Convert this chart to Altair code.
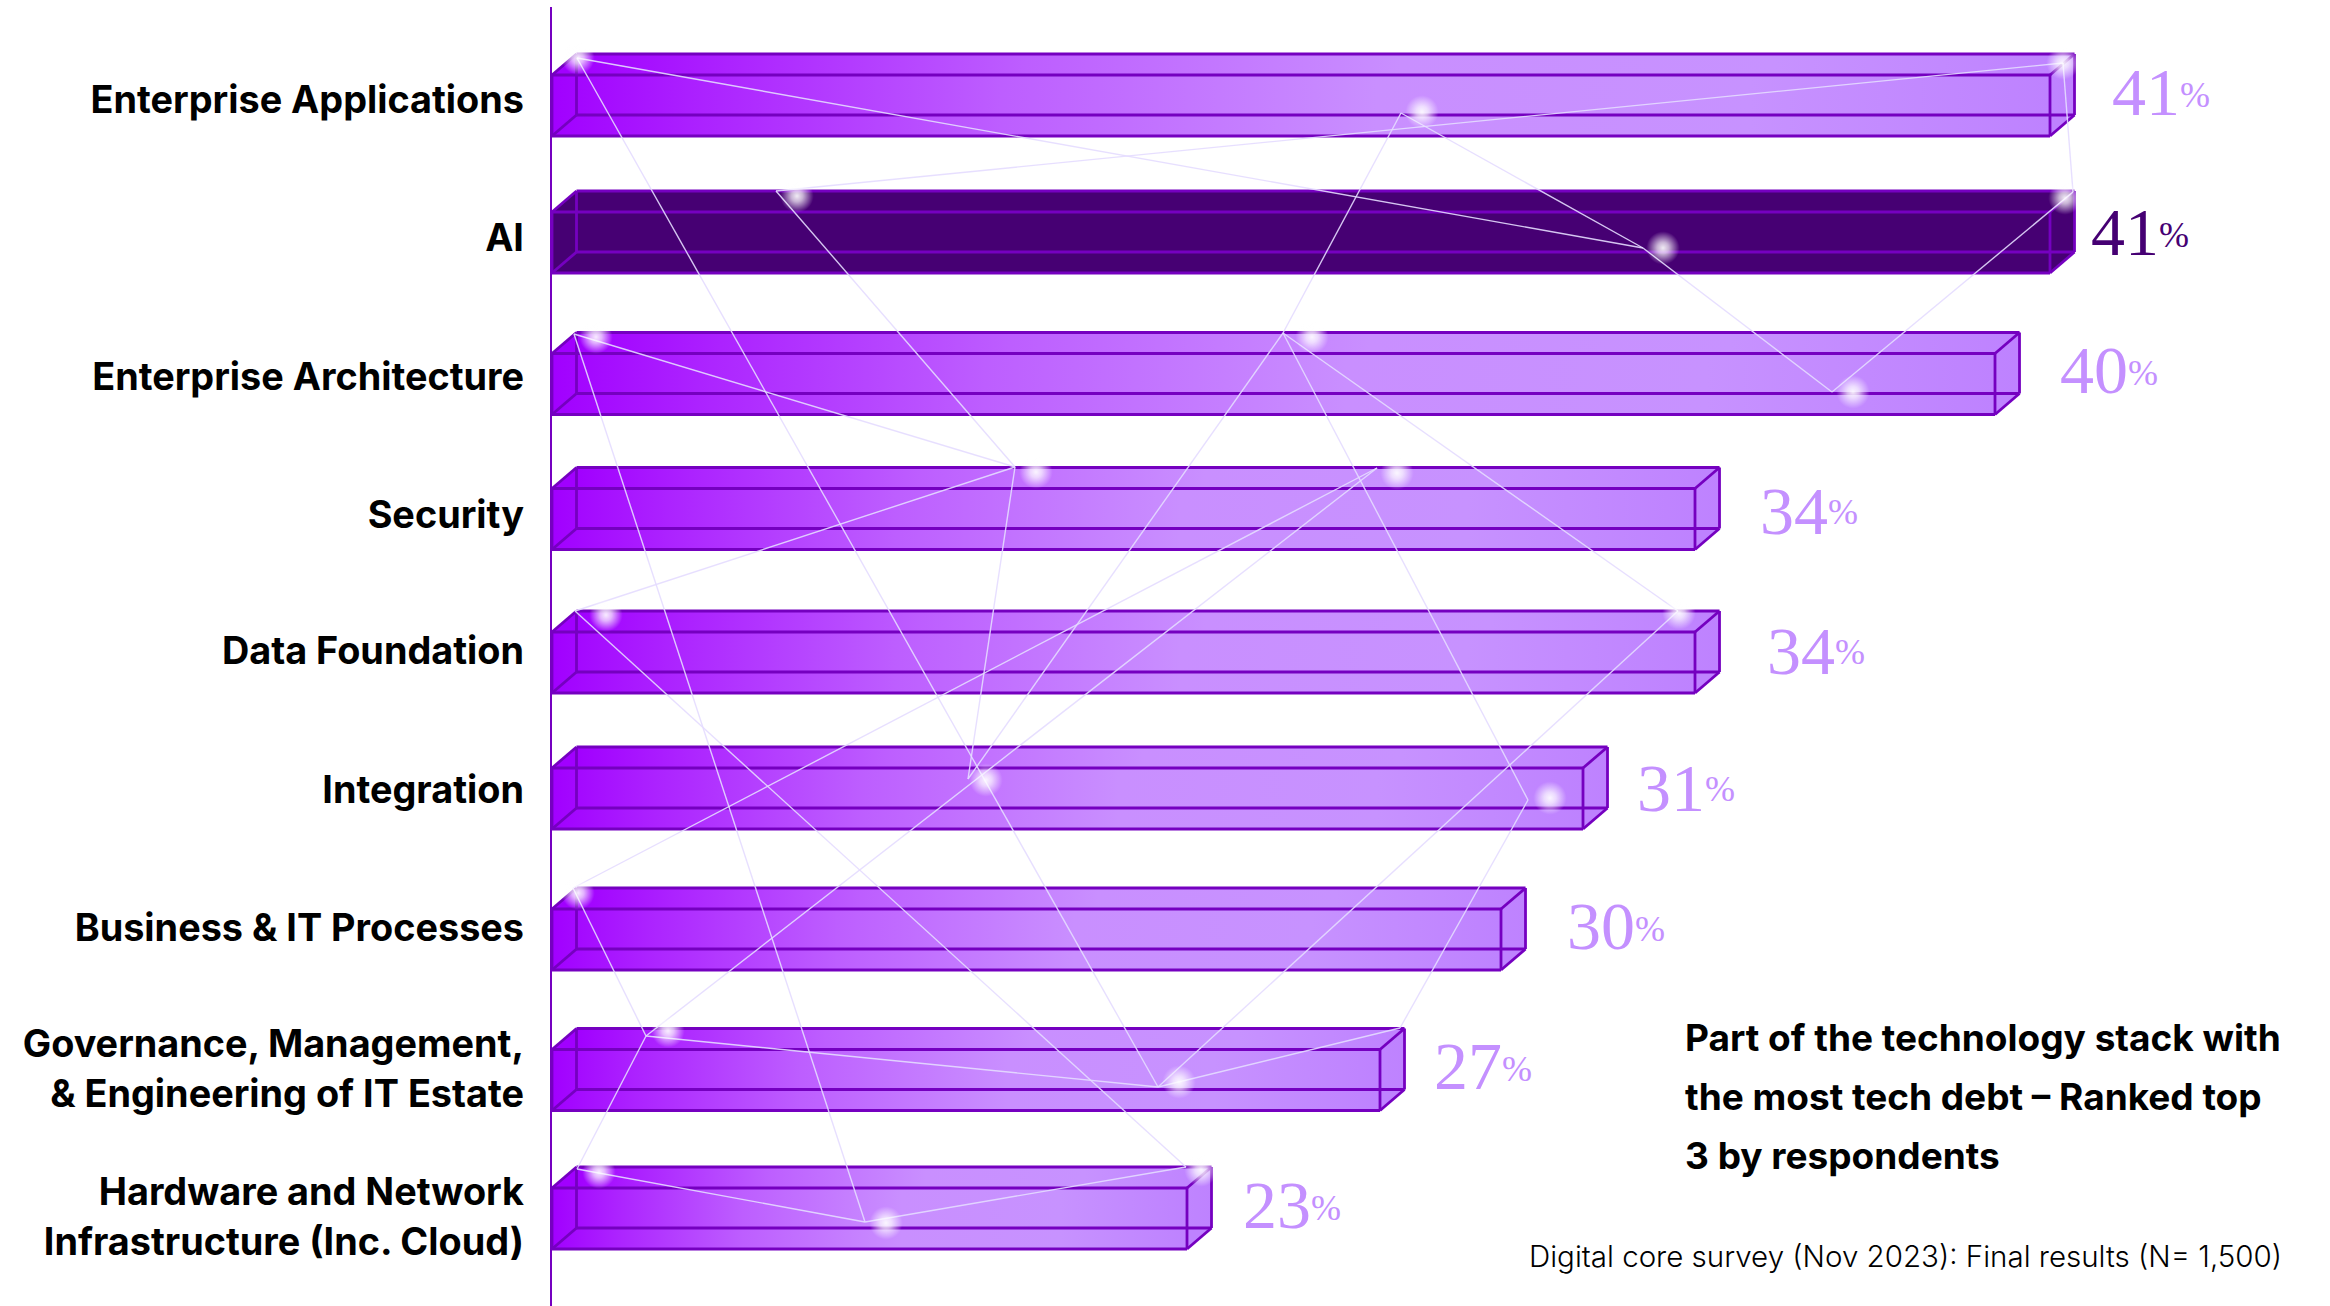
import altair as alt
import pandas as pd

# Survey results, ranked
categories = [
    "Enterprise Applications", "AI", "Enterprise Architecture", "Security",
    "Data Foundation", "Integration", "Business & IT Processes",
    "Governance, Management,\n& Engineering of IT Estate",
    "Hardware and Network\nInfrastructure (Inc. Cloud)",
]
shares = [41, 41, 40, 34, 34, 31, 30, 27, 23]
highlighted = "AI"

# Axis layout: the bars start at a truncated baseline
BASELINE = 10
x_knots = [10, 23, 27, 30, 31, 34, 40, 41]
x_pixels = [552, 1187, 1380, 1501, 1583, 1695, 1995, 2050]
row_pixels = [105.5, 242.5, 384, 519, 662.5, 798.5, 939.5, 1080, 1218.5]
label_nudge = [-4, -3, -5.5, -2.5, -10, -7, -10, -34.5, -25]
value_gap = [130, 109, 133, 133, 140, 122, 134, 122, 124]
number_nudge = [-11, -8, -11, -5, -9, -8, -11, -11, -11]
sign_nudge = [-10, -7, -10, -6, -10, -9, -10, -10, -10]

# Prism geometry in pixels
HALF = 30.5
DX, DY = 24.5, -21

PURPLE = "#7500C0"
DARK = "#460073"
LIGHT = "#C490FF"

# Constellation overlay on its own layout grid
nodes = {
    "a": (577, 58), "b": (2063, 63), "c": (1401, 113), "d": (776, 191),
    "e": (1643, 248), "f": (2073, 192), "g": (574, 334), "h": (1283, 333),
    "i": (1832, 392), "j": (1015, 467), "k": (1377, 468), "l": (575, 611),
    "m": (1678, 611), "n": (968, 779), "o": (1528, 800), "p": (573, 888),
    "q": (646, 1036), "r": (1158, 1087), "s": (1400, 1028), "t": (577, 1169),
    "u": (865, 1222), "v": (1186, 1167),
}
links = [
    "ae", "ar", "db", "bf", "fi", "ce", "ei", "ch", "dj", "gj", "gu", "jl",
    "jn", "nh", "hm", "ho", "kp", "kq", "lv", "mr", "rq", "rs", "so", "pq",
    "qt", "tu", "uv",
]
glow_x = [578, 2063, 1422, 797, 1663, 2065, 596, 1312, 1853, 1036, 1397,
          606, 1679, 986, 1550, 578, 668, 1179, 599, 886, 1201]
glow_y = [58, 63, 112, 196, 248, 198, 337, 337, 392, 472, 473,
          615, 613, 780, 798, 893, 1031, 1082, 1172, 1223, 1170]

bars = pd.DataFrame({
    "category": categories,
    "share": shares,
    "row": range(len(shares)),
    "base": BASELINE,
    "text": [str(s) for s in shares],
})
regular = bars[bars.category != highlighted]
accent = bars[bars.category == highlighted]

links_df = pd.DataFrame([
    {"link": link, "step": s, "nx": nodes[c][0], "ny": nodes[c][1]}
    for link in links for s, c in enumerate(link)
])
glows = pd.DataFrame({"nx": glow_x, "ny": glow_y})

x_scale = alt.Scale(domain=x_knots, range=x_pixels, zero=False, nice=False)
y_scale = alt.Scale(domain=list(range(len(row_pixels))), range=row_pixels,
                    zero=False, nice=False)
x_base = alt.X("base:Q", axis=None, scale=x_scale)
x_share = alt.X("share:Q", axis=None, scale=x_scale)
y_row = alt.Y("row:Q", axis=None, scale=y_scale)

grid_x = alt.X("nx:Q", axis=None,
               scale=alt.Scale(domain=[0, 2330], range=[0, 2330], zero=False, nice=False))
grid_y = alt.Y("ny:Q", axis=None,
               scale=alt.Scale(domain=[0, 1306], range=[0, 1306], zero=False, nice=False))

bar_fade = alt.LinearGradient(
    gradient="linear", x1=0, x2=1, y1=0, y2=0,
    stops=[
        alt.GradientStop(color="#A100FF", offset=0),
        alt.GradientStop(color="#AC22FF", offset=0.1),
        alt.GradientStop(color="#BD5EFF", offset=0.3),
        alt.GradientStop(color="#C98FFF", offset=0.55),
        alt.GradientStop(color="#C792FF", offset=0.8),
        alt.GradientStop(color="#BE82FF", offset=1),
    ],
)
glow_fill = alt.RadialGradient(
    gradient="radial", x1=0.5, y1=0.5, r1=0, x2=0.5, y2=0.5, r2=0.5,
    stops=[
        alt.GradientStop(color="rgba(255,255,255,0.92)", offset=0),
        alt.GradientStop(color="rgba(255,255,255,0.7)", offset=0.35),
        alt.GradientStop(color="rgba(255,255,255,0)", offset=1),
    ],
)


def face(frame, fill, dx, dy):
    """One long face of a prism, from the baseline to the bar's share."""
    return alt.Chart(frame).mark_rect(
        fill=fill, xOffset=dx, x2Offset=dx, yOffset=dy - HALF, y2Offset=dy + HALF,
    ).encode(x=x_base, x2=alt.X2("share:Q"), y=y_row, y2=alt.Y2("row:Q"))


def wedge(frame, fill, anchor, path, dy):
    """Triangular corner that closes a prism's silhouette."""
    return alt.Chart(frame).mark_point(
        shape=path, size=DX ** 2, filled=True, fill=fill, opacity=1, strokeWidth=0,
        xOffset=DX / 2, yOffset=dy,
    ).encode(x=anchor, y=y_row)


TOP_LEFT = "M-1,0.84L1,-0.84L1,0.84Z"
BOTTOM_RIGHT = "M-1,0.84L1,-0.84L-1,-0.84Z"

fills = alt.layer(
    face(regular, bar_fade, DX, DY),
    face(regular, bar_fade, 0, 0),
    wedge(regular, "#A100FF", x_base, TOP_LEFT, DY / 2 - HALF),
    wedge(regular, "#BE82FF", x_share, BOTTOM_RIGHT, DY / 2 + HALF),
    face(accent, DARK, DX, DY),
    face(accent, DARK, 0, 0),
    wedge(accent, DARK, x_base, TOP_LEFT, DY / 2 - HALF),
    wedge(accent, DARK, x_share, BOTTOM_RIGHT, DY / 2 + HALF),
)


def edge(start_field, end_field, x0, y0, x1, y1):
    """One straight edge of the wireframe, offset in pixels from the row centre."""
    return alt.Chart(bars).mark_rule(
        color=PURPLE, strokeWidth=2.8,
        xOffset=x0, yOffset=y0, x2Offset=x1, y2Offset=y1,
    ).encode(
        x=alt.X(f"{start_field}:Q", axis=None, scale=x_scale),
        x2=alt.X2(f"{end_field}:Q"),
        y=y_row, y2=alt.Y2("row:Q"),
    )


wireframe = alt.layer(
    # front rectangle
    edge("base", "share", 0, -HALF, 0, -HALF),
    edge("base", "share", 0, HALF, 0, HALF),
    edge("base", "base", 0, -HALF, 0, HALF),
    edge("share", "share", 0, -HALF, 0, HALF),
    # back rectangle
    edge("base", "share", DX, DY - HALF, DX, DY - HALF),
    edge("base", "share", DX, DY + HALF, DX, DY + HALF),
    edge("base", "base", DX, DY - HALF, DX, DY + HALF),
    edge("share", "share", DX, DY - HALF, DX, DY + HALF),
    # depth edges
    edge("base", "base", 0, -HALF, DX, DY - HALF),
    edge("base", "base", 0, HALF, DX, DY + HALF),
    edge("share", "share", 0, -HALF, DX, DY - HALF),
    edge("share", "share", 0, HALF, DX, DY + HALF),
)

axis_line = alt.Chart(bars.head(1)).mark_rule(color=PURPLE, strokeWidth=2).encode(
    x=alt.value(551), y=alt.value(7), y2=alt.value(1306)
)

link_lines = alt.Chart(links_df).mark_line(
    color="#E4DCFF", strokeWidth=1.4, opacity=0.9
).encode(x=grid_x, y=grid_y, detail="link:N", order="step:Q")

glow_dots = alt.Chart(glows).mark_circle(
    fill=glow_fill, size=1100, opacity=1
).encode(x=grid_x, y=grid_y)

row_labels = alt.layer(*[
    alt.Chart(bars[bars.row == i]).mark_text(
        align="right", baseline="middle", font="Inter", fontSize=37.8, fontWeight=700,
        color="#000000", lineBreak="\n", lineHeight=50, dy=label_nudge[i],
    ).encode(x=alt.value(524), y=y_row, text="category:N")
    for i in range(len(categories))
])

value_labels = []
for i, category in enumerate(categories):
    tone = DARK if category == highlighted else LIGHT
    row = bars[bars.row == i]
    value_labels.append(alt.Chart(row).mark_text(
        align="right", baseline="middle", font="Liberation Serif", fontSize=68,
        color=tone, dx=value_gap[i], dy=number_nudge[i],
    ).encode(x=x_share, y=y_row, text="text:N"))
    value_labels.append(alt.Chart(row).mark_text(
        align="left", baseline="middle", font="Liberation Serif", fontSize=36,
        color=tone, dx=value_gap[i], dy=sign_nudge[i], text="%",
    ).encode(x=x_share, y=y_row))

headline = alt.Chart(bars.head(1)).mark_text(
    align="left", baseline="middle", font="Inter", fontSize=37, fontWeight=700,
    color="#000000", lineBreak="\n", lineHeight=59,
    text="Part of the technology stack with\nthe most tech debt – Ranked top\n3 by respondents",
).encode(x=alt.value(1685), y=alt.value(1040))

source = alt.Chart(bars.head(1)).mark_text(
    align="left", baseline="middle", font="Inter", fontSize=29.5, fontWeight=300,
    color="#000000", text="Digital core survey (Nov 2023): Final results (N= 1,500)",
).encode(x=alt.value(1529), y=alt.value(1257.5))

chart = alt.layer(
    fills, wireframe, link_lines, glow_dots, axis_line,
    row_labels, *value_labels, headline, source,
).resolve_scale(x="independent", y="independent").properties(
    width=2330, height=1306, padding=0,
    autosize=alt.AutoSizeParams(type="none"), background="#FFFFFF",
).configure_view(stroke=None)

chart.save("out.html", embed_options={"renderer": "svg", "actions": False})
